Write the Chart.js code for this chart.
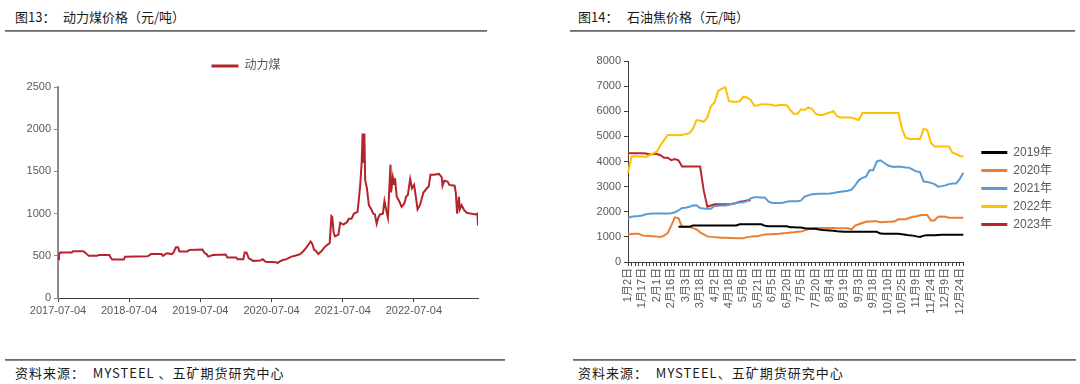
<!DOCTYPE html>
<html><head><meta charset="utf-8">
<script src="https://cdn.jsdelivr.net/npm/chart.js@4.4.0/dist/chart.umd.min.js"></script>
<style>
html,body{margin:0;padding:0;background:#fff;width:1080px;height:384px;overflow:hidden;font-family:"Noto Sans CJK SC",sans-serif;}
.t{position:absolute;font-size:13px;color:#1a1a1a;white-space:pre;line-height:14px;}
.rule{position:absolute;height:2px;background:linear-gradient(#5a5a5a,#9a9a9a);}
.src{position:absolute;font-size:13px;letter-spacing:1px;color:#1a1a1a;white-space:pre;line-height:14px;}
.box{position:absolute;}
</style></head><body>
<div class="t" style="left:15px;top:10px">图13：</div>
<div class="t" style="left:63px;top:10px">动力煤价格（元/吨）</div>
<div class="rule" style="left:5px;top:30px;width:482px"></div>
<div class="t" style="left:578px;top:10px">图14：</div>
<div class="t" style="left:627px;top:10px">石油焦价格（元/吨）</div>
<div class="rule" style="left:570px;top:30px;width:505px"></div>
<div class="rule" style="left:5px;top:359px;width:500px"></div>
<div class="rule" style="left:573px;top:359px;width:503px"></div>
<div class="src" style="left:15px;top:366px">资料来源：  MYSTEEL 、五矿期货研究中心</div>
<div class="src" style="left:578px;top:366px">资料来源：  MYSTEEL、五矿期货研究中心</div>
<div class="box" style="left:0;top:40px"><canvas id="c1" width="490" height="290"></canvas></div>
<div class="box" style="left:570px;top:40px"><canvas id="c2" width="510" height="290"></canvas></div>
<script>
// ---------- 动力煤 data ----------
const coalDates = ['2017-07-04','2017-07-09','2017-07-15','2017-09-13','2017-09-19','2017-11-11','2017-11-20','2017-11-29','2017-12-08','2018-01-21','2018-01-30','2018-03-25','2018-03-28','2018-04-08','2018-06-07','2018-06-13','2018-10-06','2018-10-15','2018-10-24','2018-12-17','2018-12-25','2019-01-12','2019-02-08','2019-02-17','2019-03-01','2019-03-12','2019-03-19','2019-04-29','2019-05-08','2019-07-15','2019-07-27','2019-08-05','2019-08-14','2019-09-06','2019-11-11','2019-11-20','2020-01-04','2020-01-12','2020-02-10','2020-02-17','2020-02-26','2020-03-09','2020-04-01','2020-05-07','2020-05-19','2020-06-03','2020-07-26','2020-08-04','2020-08-13','2020-08-31','2020-09-18','2020-10-14','2020-11-01','2020-11-28','2020-12-16','2020-12-30','2021-01-11','2021-01-20','2021-01-29','2021-02-07','2021-02-16','2021-02-28','2021-03-15','2021-04-01','2021-04-10','2021-04-28','2021-05-07','2021-05-11','2021-05-18','2021-05-25','2021-06-12','2021-06-21','2021-07-08','2021-07-26','2021-08-04','2021-08-18','2021-08-31','2021-09-18','2021-09-26','2021-10-02','2021-10-09','2021-10-14','2021-10-18','2021-10-23','2021-10-27','2021-11-05','2021-11-15','2021-11-28','2021-12-07','2021-12-16','2021-12-25','2022-01-02','2022-01-11','2022-01-26','2022-02-03','2022-02-16','2022-02-21','2022-03-06','2022-03-09','2022-03-18','2022-03-24','2022-03-29','2022-04-07','2022-04-19','2022-05-02','2022-05-16','2022-05-25','2022-06-03','2022-06-15','2022-06-24','2022-07-05','2022-07-14','2022-07-23','2022-08-04','2022-08-22','2022-09-09','2022-09-18','2022-09-27','2022-10-14','2022-11-10','2022-11-24','2022-11-28','2022-12-07','2022-12-24','2023-01-02','2023-01-29','2023-02-04','2023-02-11','2023-02-20','2023-02-25','2023-03-06','2023-03-19','2023-04-02','2023-04-20','2023-05-17','2023-05-26','2023-05-29'];
const coalPrices = [460,510,540,540,555,555,540,520,500,500,510,510,490,455,455,490,495,505,520,520,500,530,520,540,600,600,550,550,570,575,530,520,490,510,515,480,480,460,460,540,540,470,440,445,460,430,425,415,430,450,460,490,500,520,560,600,640,670,640,570,560,520,550,600,620,650,970,960,780,730,750,890,870,900,940,940,1000,1020,1200,1350,1600,1950,1600,1950,1400,1300,1100,1050,1000,990,880,950,990,1000,1150,1000,950,1580,1250,1430,1350,1420,1200,1150,1080,1120,1200,1220,1410,1300,1340,1200,1050,1100,1250,1300,1320,1460,1460,1470,1430,1330,1390,1380,1340,1330,1250,1000,1200,1050,1100,1040,1010,1000,990,1000,860];
const coalTickDates = ['2017-07-04','2018-07-04','2019-07-04','2020-07-04','2021-07-04','2022-07-04'];
const coalYTicks = [0,500,1000,1500,2000,2500];

// ---------- 石油焦 data ----------
const petTickLabels = ['1月2日','1月17日','2月1日','2月16日','3月3日','3月18日','4月2日','4月18日','5月6日','5月21日','6月5日','6月20日','7月5日','7月20日','8月4日','8月19日','9月3日','9月18日','10月10日','10月25日','11月9日','11月24日','12月9日','12月24日'];
const petYears = ['2019年','2020年','2021年','2022年','2023年'];
const pet2019 = [null,null,null,null,null,null,null,null,null,null,null,null,null,null,1400,1400,1400,1400,1450,1450,1450,1450,1450,1450,1450,1450,1450,1450,1450,1450,1450,1500,1500,1500,1500,1500,1500,1500,1440,1420,1420,1420,1420,1420,1420,1380,1380,1370,1370,1340,1330,1320,1320,1290,1270,1260,1250,1240,1220,1210,1200,1200,1200,1200,1200,1200,1200,1200,1200,1200,1130,1120,1120,1120,1120,1120,1100,1080,1060,1050,1020,1000,1050,1060,1060,1060,1070,1080,1080,1080,1080,1080,1080,1080];
const pet2020 = [1100,1110,1120,1120,1060,1040,1030,1020,1010,1000,1050,1150,1450,1780,1750,1400,1400,1400,1350,1300,1180,1100,1020,1000,990,980,970,970,960,960,950,950,950,990,1010,1020,1020,1070,1090,1100,1100,1110,1120,1140,1150,1170,1180,1200,1210,1260,1300,1330,1350,1350,1350,1350,1350,1350,1340,1340,1340,1340,1300,1450,1500,1550,1600,1610,1620,1620,1580,1590,1600,1600,1620,1700,1700,1700,1750,1800,1820,1860,1870,1870,1650,1650,1800,1810,1800,1760,1760,1760,1760,1760];
const pet2021 = [1750,1800,1820,1830,1850,1900,1920,1930,1930,1930,1930,1930,1940,1980,2050,2150,2160,2200,2250,2260,2150,2130,2120,2120,2230,2240,2250,2250,2280,2320,2350,2370,2380,2420,2530,2580,2580,2570,2560,2400,2350,2350,2350,2360,2400,2420,2420,2420,2450,2600,2650,2700,2710,2720,2720,2720,2730,2750,2780,2800,2820,2840,2880,3050,3250,3350,3400,3650,3650,4000,4050,3950,3850,3800,3780,3800,3780,3760,3750,3680,3600,3580,3200,3180,3150,3100,3000,3020,3050,3100,3120,3120,3300,3550];
const pet2022 = [3550,4200,4220,4200,4200,4180,4250,4320,4400,4650,4850,5050,5050,5040,5050,5050,5100,5120,5300,5650,5620,5580,5750,6200,6350,6800,6900,6950,6400,6380,6380,6400,6580,6550,6450,6230,6230,6280,6280,6270,6250,6220,6250,6250,6240,6050,5900,5900,6080,6050,6150,6100,5900,5850,5850,5900,5950,6000,5800,5750,5750,5750,5750,5700,5650,5930,5930,5930,5930,5930,5930,5930,5930,5930,5930,5930,5300,4950,4900,4900,4900,4900,5300,5250,4750,4600,4600,4600,4600,4600,4350,4300,4220,4200];
const pet2023 = [4330,4330,4330,4330,4330,4320,4280,4300,4300,4250,4150,4150,4050,4100,4050,3800,3800,3800,3800,3800,3800,2850,2200,2250,2300,2300,2300,2300,2300,2310,2350,2400,2420,2450,2460];
const petColors = ['#000000','#ED7D31','#5B9BD5','#FFC000','#B8262C'];

// ---------- helpers ----------
const FONT = "'Liberation Sans','Noto Sans CJK SC',sans-serif";
const GREY = '#595959';
const dayOf = s => Date.UTC(+s.slice(0,4), +s.slice(5,7)-1, +s.slice(8,10)) / 86400000;
const base = dayOf(coalDates[0]);
const noStroke = ch => Chart.defaults.plugins.legend.labels.generateLabels(ch).map(l => Object.assign(l, {lineWidth: 0}));
const plain = v => String(v);

const legendShift = {
  id: 'legendShift',
  afterLayout(chart, args, opts) {
    const lg = chart.legend;
    if (!lg) return;
    const dx = opts.dx || 0, dy = opts.dy || 0;
    lg.left += dx; lg.right += dx; lg.top += dy; lg.bottom += dy;
  }
};

// ---------- chart 1 ----------
new Chart(document.getElementById('c1'), {
  type: 'line',
  plugins: [legendShift],
  data: {
    datasets: [{
      label: '动力煤',
      data: coalDates.map((d, i) => ({x: dayOf(d) - base, y: coalPrices[i]})),
      borderColor: '#B5232B', backgroundColor: '#B5232B',
      borderWidth: 2, pointRadius: 0, tension: 0
    }]
  },
  options: {
    responsive: false, animation: false, events: [],
    layout: {padding: {left: 0, right: 12, top: 4, bottom: 0}},
    plugins: {
      tooltip: {enabled: false},
      legendShift: {dx: 7, dy: -5},
      legend: {
        position: 'top',
        labels: {boxWidth: 27, boxHeight: 3, padding: 21, color: GREY, font: {family: FONT, size: 12}, generateLabels: noStroke}
      }
    },
    scales: {
      x: {
        type: 'linear', min: 0, max: dayOf(coalDates[coalDates.length - 1]) - base,
        afterBuildTicks: s => { s.ticks = coalTickDates.map(d => ({value: dayOf(d) - base})); },
        afterFit: s => { s.height = 32; },
        ticks: {callback: (v, i) => coalTickDates[i], color: GREY, font: {family: FONT, size: 11}, maxRotation: 0, padding: 2, autoSkip: false},
        grid: {drawOnChartArea: false, drawTicks: true, tickLength: 4, color: '#404040'},
        border: {color: '#404040', width: 1}
      },
      y: {
        min: 0, max: 2500,
        afterBuildTicks: s => { s.ticks = coalYTicks.map(v => ({value: v})); },
        afterFit: s => { s.width = 58; },
        ticks: {callback: plain, color: GREY, font: {family: FONT, size: 11}, padding: 3},
        grid: {drawOnChartArea: false, drawTicks: true, tickLength: 4, color: '#8c8c8c'},
        border: {color: '#8c8c8c', width: 2}
      }
    }
  }
});

// ---------- chart 2 ----------
const petCategories = [];
for (let i = 0; i < pet2022.length; i++) petCategories.push(i % 4 === 0 && petTickLabels[i / 4] ? petTickLabels[i / 4] : '');
const petSeries = [pet2019, pet2020, pet2021, pet2022, pet2023];

new Chart(document.getElementById('c2'), {
  type: 'line',
  plugins: [legendShift],
  data: {
    labels: petCategories,
    datasets: petSeries.map((arr, k) => ({
      label: petYears[k], data: arr,
      borderColor: petColors[k], backgroundColor: petColors[k],
      borderWidth: 2, pointRadius: 0, tension: 0, spanGaps: false
    }))
  },
  options: {
    responsive: false, animation: false, events: [],
    layout: {padding: {left: 0, right: 30, top: 21, bottom: 0}},
    plugins: {
      tooltip: {enabled: false},
      legendShift: {dx: 12, dy: -7},
      legend: {
        position: 'right', align: 'center',
        labels: {boxWidth: 26, boxHeight: 3, padding: 6, color: GREY, font: {family: FONT, size: 12}, generateLabels: noStroke}
      }
    },
    scales: {
      x: {
        type: 'category', offset: false,
        afterFit: s => { s.height = 68; },
        ticks: {autoSkip: false, maxRotation: 90, minRotation: 90, color: GREY, font: {family: FONT, size: 11}, padding: 2},
        grid: {drawOnChartArea: false, drawTicks: true, tickLength: 4, color: '#404040'},
        border: {color: '#404040', width: 1}
      },
      y: {
        min: 0, max: 8000,
        afterFit: s => { s.width = 58; },
        ticks: {stepSize: 1000, callback: plain, color: GREY, font: {family: FONT, size: 11}, padding: 3},
        grid: {drawOnChartArea: false, drawTicks: true, tickLength: 4, color: '#404040'},
        border: {color: '#404040', width: 1}
      }
    }
  }
});
</script>
</body></html>
